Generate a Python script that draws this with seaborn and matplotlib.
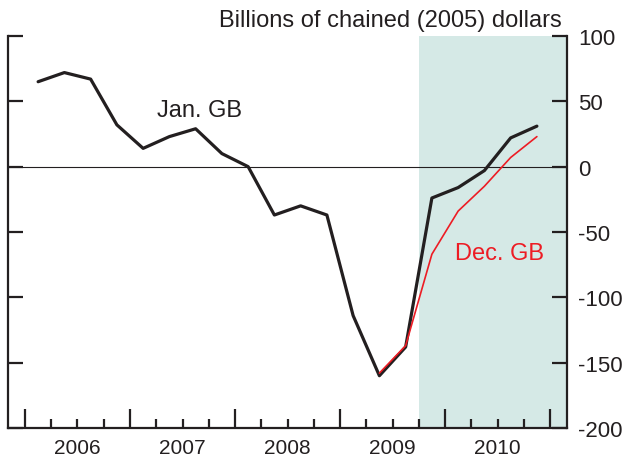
import numpy as np
import pandas as pd
import seaborn as sns
import matplotlib.pyplot as plt
from matplotlib.ticker import FixedLocator

# Quarterly data (2006Q1 - 2010Q4)
years = [2006] * 4 + [2007] * 4 + [2008] * 4 + [2009] * 4 + [2010] * 4
quarters = [1, 2, 3, 4] * 5
jan_gb = [65, 72, 67, 32,
          14, 23, 29, 10,
          0, -37, -30, -37,
          -114, -160, -138, -24,
          -16, -3, 22, 31]

# Dec. GB starts at 2009Q2
dec_years = [2009, 2009, 2009, 2010, 2010, 2010, 2010]
dec_quarters = [2, 3, 4, 1, 2, 3, 4]
dec_gb = [-158, -137, -67, -34, -15, 7, 23]

year_labels = ['2006', '2007', '2008', '2009', '2010']
y_ticks = [-200, -150, -100, -50, 0, 50, 100]
shade_start = 2009.75

jan = pd.DataFrame({'x': [y + (q - 0.5) / 4 for y, q in zip(years, quarters)], 'value': jan_gb})
dec = pd.DataFrame({'x': [y + (q - 0.5) / 4 for y, q in zip(dec_years, dec_quarters)], 'value': dec_gb})

sns.set_style('ticks')
plt.rcParams['font.family'] = ['Liberation Sans', 'DejaVu Sans']

fig = plt.figure(figsize=(6.24, 4.60), dpi=100)
ax = fig.add_axes([0.0128, 0.0674, 0.8959, 0.8522])

ink = '#231f20'
red = '#ed1c24'

xmin, xmax = 2005.838, 2011.162
ax.axvspan(shade_start, xmax, color='#d5e9e6', lw=0, zorder=0)
ax.axhline(0, color=ink, lw=0.8, zorder=1)

sns.lineplot(data=jan, x='x', y='value', ax=ax, color=ink, lw=2.3, zorder=3)
sns.lineplot(data=dec, x='x', y='value', ax=ax, color=red, lw=1.2, zorder=4)

ax.set_xlim(xmin, xmax)
ax.set_ylim(-200, 100)
ax.set_xlabel('')
ax.set_ylabel('')

# spines
for side in ['left', 'right', 'bottom']:
    ax.spines[side].set_visible(True)
    ax.spines[side].set_linewidth(1.6)
    ax.spines[side].set_color(ink)
ax.spines['top'].set_visible(False)

# y axis: ticks inward on both sides, labels on right
ax.set_yticks(y_ticks)
ax.set_yticklabels([str(v) for v in y_ticks])
ax.yaxis.set_minor_locator(FixedLocator([100]))
ax.tick_params(axis='y', which='major', left=True, right=True, labelleft=False, labelright=True,
               direction='in', length=10.8, width=1.6, color=ink, labelsize=16, pad=8, labelcolor=ink)
ax.tick_params(axis='y', which='minor', left=True, right=True, direction='in', length=17.5, width=1.6, color=ink)

# x axis: year boundaries major, quarter boundaries minor, year labels at mid-year
first = int(year_labels[0])
year_edges = list(range(first, first + len(year_labels) + 1))
ax.set_xticks(year_edges)
ax.set_xticklabels([''] * len(year_edges))
minor_pos = []
minor_lab = []
for y in year_edges[:-1]:
    for k in (1, 2, 3):
        minor_pos.append(y + k / 4)
        minor_lab.append(str(y) if k == 2 else '')
ax.set_xticks(minor_pos, minor=True)
ax.set_xticklabels(minor_lab, minor=True)
ax.tick_params(axis='x', which='major', direction='in', length=13.7, width=1.6, color=ink)
ax.tick_params(axis='x', which='minor', direction='in', length=6.5, width=1.6, color=ink,
               labelsize=15, pad=7.5, labelcolor=ink)

ax.text(2007.257, 38.8, 'Jan. GB', fontsize=17, color=ink, va='baseline', ha='left')
ax.text(2010.095, -70.7, 'Dec. GB', fontsize=17, color=red, va='baseline', ha='left')

fig.text(562 / 624, 1 - 27 / 460, 'Billions of chained (2005) dollars', fontsize=17,
         color=ink, ha='right', va='baseline')

fig.savefig('out.png', dpi=100)
